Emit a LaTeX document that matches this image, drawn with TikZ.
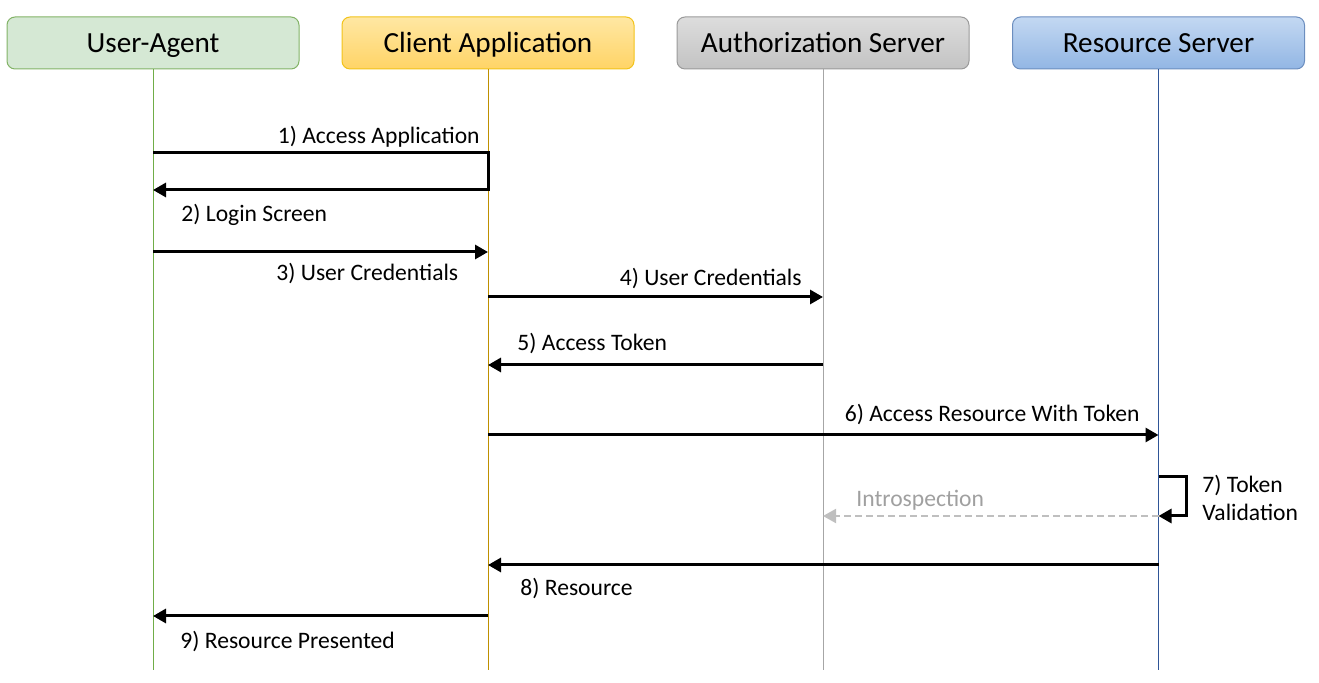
\documentclass[tikz,border=0pt]{standalone}
\usepackage{fontspec}
\setmainfont{Carlito}
\usetikzlibrary{arrows.meta,positioning,calc}

\definecolor{uafill}{HTML}{D5E8D4}
\definecolor{uadraw}{HTML}{82B366}
\definecolor{ualine}{HTML}{70AD47}
\definecolor{catop}{HTML}{FFE7A3}
\definecolor{cabot}{HTML}{FFD466}
\definecolor{cadraw}{HTML}{F2C31A}
\definecolor{caline}{HTML}{BF9000}
\definecolor{astop}{HTML}{DDDDDD}
\definecolor{asbot}{HTML}{C3C3C3}
\definecolor{asdraw}{HTML}{9A9A9A}
\definecolor{asline}{HTML}{A6A6A6}
\definecolor{rstop}{HTML}{C3D8F2}
\definecolor{rsbot}{HTML}{92B6E4}
\definecolor{rsdraw}{HTML}{6C8EBF}
\definecolor{rsline}{HTML}{2F5597}
\definecolor{introgray}{HTML}{BFBFBF}
\definecolor{introtext}{HTML}{A0A0A0}

\begin{document}
\begin{tikzpicture}[
  x=0.5pt, y=-0.5pt,
  actor/.style={rounded corners=4pt, line width=0.5pt, minimum width=146pt,
                minimum height=26pt, inner sep=0pt, text height=11.5pt, text depth=1.5pt,
                font=\fontsize{14.6}{17}\selectfont},
  life/.style={line width=0.5pt},
  msg/.style={line width=1.5pt, -{Triangle[length=6.5pt,width=7pt]}},
  intro/.style={line width=1pt, introgray, dash pattern=on 3.5pt off 2pt,
                -{Triangle[length=6.5pt,width=7pt]}},
  lbl/.style={inner sep=0pt, font=\fontsize{11.8}{14}\selectfont}
]
\useasboundingbox (0,0) rectangle (1319,683);

% participants
\node[actor, fill=uafill, draw=uadraw] (ua) at (153,43) {User-Agent};
\node[actor, top color=catop, bottom color=cabot, draw=cadraw] (ca) at (488,43) {Client Application};
\node[actor, top color=astop, bottom color=asbot, draw=asdraw] (as) at (823,43) {Authorization Server};
\node[actor, top color=rstop, bottom color=rsbot, draw=rsdraw] (rs) at (1158.5,43) {Resource Server};

% lifelines
\coordinate (bot) at (0,670);
\draw[life, ualine] (ua.south) -- (ua |- bot);
\draw[life, caline] (ca.south) -- (ca |- bot);
\draw[life, asline] (as.south) -- (as |- bot);
\draw[life, rsline] (rs.south) -- (rs |- bot);

% message rows
\coordinate (y1) at (0,153);
\coordinate (y2) at (0,190);
\coordinate (y3) at (0,252);
\coordinate (y4) at (0,297);
\coordinate (y5) at (0,365);
\coordinate (y6) at (0,435);
\coordinate (y7a) at (0,477);
\coordinate (y7b) at (0,516);
\coordinate (y8) at (0,565);
\coordinate (y9) at (0,616);

% 1) + 2)
\draw[msg] (ua |- y1) -- (ca |- y1) -- (ca |- y2) -- (ua |- y2);
\node[lbl, anchor=base east] (l1) at (480,144) {1) Access Application};
\node[lbl, anchor=base west] (l2) at (181,222) {2) Login Screen};

% 3)
\draw[msg] (ua |- y3) -- (ca |- y3);
\node[lbl, anchor=base west] (l3) at (276,281) {3) User Credentials};

% 4)
\draw[msg] (ca |- y4) -- (as |- y4);
\node[lbl, anchor=base east] (l4) at (802,286) {4) User Credentials};

% 5)
\draw[msg] (as |- y5) -- (ca |- y5);
\node[lbl, anchor=base west] (l5) at (517,351) {5) Access Token};

% 6)
\draw[msg] (ca |- y6) -- (rs |- y6);
\node[lbl, anchor=base east] (l6) at (1140,422) {6) Access Resource With Token};

% 7) self check and introspection
\coordinate (loop) at (1186,0);
\draw[msg] (rs |- y7a) -- (loop |- y7a) -- (loop |- y7b) -- (rs |- y7b);
\node[lbl, anchor=north west, align=left] (l7) at (1202,475) {7) Token\\Validation};
\draw[intro] (rs |- y7b) -- (as |- y7b);
\node[lbl, anchor=base west, text=introtext] (li) at (856,507) {Introspection};

% 8)
\draw[msg] (rs |- y8) -- (ca |- y8);
\node[lbl, anchor=base west] (l8) at (520,596) {8) Resource};

% 9)
\draw[msg] (ca |- y9) -- (ua |- y9);
\node[lbl, anchor=base west] (l9) at (180,649) {9) Resource Presented};
\end{tikzpicture}
\end{document}
